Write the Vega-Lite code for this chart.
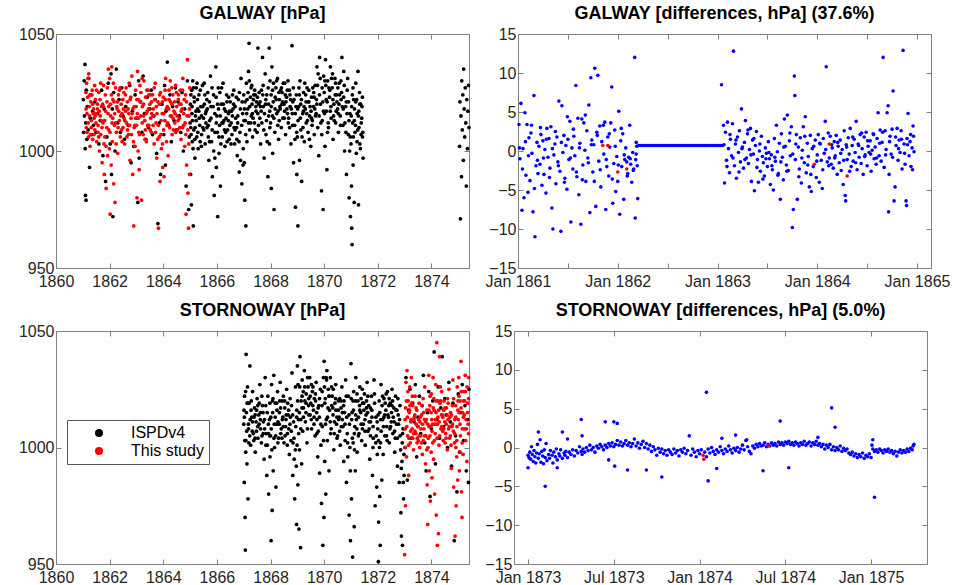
{
"$schema":"https://vega.github.io/schema/vega-lite/v6.json",
"background":"white",
"padding":{"left":17,"top":4,"right":5,"bottom":5},
"config":{
 "view":{"stroke":"#808080","strokeWidth":1},
 "font":"Liberation Sans",
 "axis":{"grid":false,"domain":false,"tickSize":-5,"tickColor":"#808080","labelFontSize":16,"labelColor":"#262626","labelPadding":7,"title":null,"labelFlush":false,"labelOverlap":false},
 "axisX":{"labelPadding":10},
 "title":{"fontSize":18,"fontWeight":"bold","color":"#000","offset":3}
},
"datasets":{
"gi":[
{"t":1861.02,"v":1022},{"t":1861.03,"v":1008},{"t":1861.05,"v":1030},{"t":1861.06,"v":1015},{"t":1861.08,"v":1037},{"t":1861.09,"v":1001},{"t":1861.1,"v":981},{"t":1861.12,"v":979},{"t":1861.11,"v":1012},{"t":1861.13,"v":1026},{"t":1861.15,"v":1005},{"t":1861.17,"v":1019},{"t":1861.2,"v":1009},{"t":1861.22,"v":1031},{"t":1861.25,"v":993},{"t":1861.28,"v":1014},{"t":1861.3,"v":1024},{"t":1861.33,"v":1007},{"t":1861.37,"v":1017},{"t":1861.4,"v":1011},{"t":1861.45,"v":1021},{"t":1861.5,"v":1008},{"t":1861.55,"v":1016},{"t":1861.6,"v":1003},{"t":1861.65,"v":1013},{"t":1861.7,"v":1026},{"t":1861.75,"v":998},{"t":1861.8,"v":1018},{"t":1861.85,"v":987},{"t":1861.9,"v":1006},{"t":1861.95,"v":1029},
{"t":1862.02,"v":1003},{"t":1862.05,"v":1033},{"t":1862.07,"v":990},{"t":1862.1,"v":1018},{"t":1862.12,"v":972},{"t":1862.15,"v":1025},{"t":1862.2,"v":1000},{"t":1862.25,"v":1035},{"t":1862.3,"v":1012},{"t":1862.35,"v":1022},{"t":1862.4,"v":1008},{"t":1862.45,"v":1027},{"t":1862.5,"v":1015},{"t":1862.55,"v":1005},{"t":1862.6,"v":1019},{"t":1862.7,"v":1011},{"t":1862.75,"v":1028},{"t":1862.8,"v":995},{"t":1862.85,"v":1017},{"t":1862.9,"v":1002},{"t":1862.95,"v":1024},
{"t":1863.02,"v":1014},{"t":1863.05,"v":978},{"t":1863.08,"v":1030},{"t":1863.1,"v":997},{"t":1863.15,"v":1021},{"t":1863.2,"v":1008},{"t":1863.25,"v":1032},{"t":1863.3,"v":1016},{"t":1863.35,"v":1005},{"t":1863.4,"v":1023},{"t":1863.45,"v":1010},{"t":1863.5,"v":1018},{"t":1863.55,"v":1026},{"t":1863.6,"v":1007},{"t":1863.65,"v":1015},{"t":1863.7,"v":1022},{"t":1863.75,"v":999},{"t":1863.8,"v":969},{"t":1863.85,"v":1012},{"t":1863.9,"v":990},{"t":1863.95,"v":1020},
{"t":1864.02,"v":1007},{"t":1864.05,"v":1028},{"t":1864.08,"v":994},{"t":1864.1,"v":1017},{"t":1864.15,"v":1038},{"t":1864.2,"v":1011},{"t":1864.25,"v":1024},{"t":1864.3,"v":1004},{"t":1864.35,"v":1019},{"t":1864.4,"v":1013},{"t":1864.45,"v":1027},{"t":1864.5,"v":1009},{"t":1864.55,"v":1021},{"t":1864.6,"v":1015},{"t":1864.65,"v":1008},{"t":1864.7,"v":1025},{"t":1864.75,"v":1000},{"t":1864.8,"v":1018},{"t":1864.85,"v":985},{"t":1864.9,"v":1030},{"t":1864.95,"v":975},{"t":1864.97,"v":1006},
{"t":1865.0,"v":1012},{"t":1865.02,"v":990},{"t":1865.03,"v":1024},{"t":1865.05,"v":977},{"t":1865.07,"v":1016},{"t":1865.08,"v":1004},{"t":1865.1,"v":1030},{"t":1865.12,"v":968},{"t":1865.14,"v":1009},{"t":1865.16,"v":1021},{"t":1865.18,"v":997},{"t":1865.2,"v":1015},{"t":1865.23,"v":1027},{"t":1865.25,"v":1006},{"t":1865.28,"v":1018},{"t":1865.3,"v":1001},{"t":1865.33,"v":1024},{"t":1865.36,"v":1011},{"t":1865.4,"v":1019},{"t":1865.43,"v":1007},{"t":1865.46,"v":1028},{"t":1865.5,"v":1014},{"t":1865.53,"v":1020},{"t":1865.56,"v":1003},{"t":1865.6,"v":1017},{"t":1865.63,"v":1010},{"t":1865.66,"v":1025},{"t":1865.7,"v":996},{"t":1865.73,"v":1013},{"t":1865.76,"v":1032},{"t":1865.8,"v":1004},{"t":1865.83,"v":989},{"t":1865.86,"v":1019},{"t":1865.9,"v":981},{"t":1865.93,"v":1008},{"t":1865.96,"v":1036},{"t":1865.98,"v":993},
{"t":1866.0,"v":1015},{"t":1866.03,"v":972},{"t":1866.05,"v":1027},{"t":1866.08,"v":999},{"t":1866.1,"v":1011},{"t":1866.13,"v":985},{"t":1866.16,"v":1020},{"t":1866.2,"v":1006},{"t":1866.23,"v":1029},{"t":1866.26,"v":1013},{"t":1866.3,"v":1002},{"t":1866.33,"v":1017},{"t":1866.36,"v":1024},{"t":1866.4,"v":1009},{"t":1866.43,"v":1016},{"t":1866.46,"v":1005},{"t":1866.5,"v":1021},{"t":1866.53,"v":1012},{"t":1866.56,"v":1007},{"t":1866.6,"v":1018},{"t":1866.63,"v":1026},{"t":1866.66,"v":1003},{"t":1866.7,"v":1014},{"t":1866.73,"v":1010},{"t":1866.76,"v":998},{"t":1866.8,"v":1022},{"t":1866.83,"v":991},{"t":1866.86,"v":1008},{"t":1866.9,"v":1031},{"t":1866.93,"v":986},{"t":1866.96,"v":1016},{"t":1866.98,"v":1001},
{"t":1867.0,"v":1024},{"t":1867.02,"v":995},{"t":1867.04,"v":979},{"t":1867.06,"v":1013},{"t":1867.08,"v":968},{"t":1867.1,"v":1029},{"t":1867.12,"v":1004},{"t":1867.15,"v":1018},{"t":1867.18,"v":1034},{"t":1867.2,"v":1046},{"t":1867.22,"v":1009},{"t":1867.25,"v":1023},{"t":1867.28,"v":1015},{"t":1867.3,"v":1028},{"t":1867.33,"v":1006},{"t":1867.36,"v":1022},{"t":1867.4,"v":1012},{"t":1867.43,"v":1024},{"t":1867.46,"v":1017},{"t":1867.5,"v":1008},{"t":1867.53,"v":1044},{"t":1867.56,"v":1020},{"t":1867.6,"v":1014},{"t":1867.63,"v":1003},{"t":1867.66,"v":1026},{"t":1867.7,"v":1040},{"t":1867.73,"v":1019},{"t":1867.76,"v":997},{"t":1867.8,"v":1033},{"t":1867.83,"v":1007},{"t":1867.86,"v":1024},{"t":1867.9,"v":989},{"t":1867.93,"v":1015},{"t":1867.95,"v":1044},{"t":1867.96,"v":1003},{"t":1867.98,"v":1030},
{"t":1868.0,"v":1012},{"t":1868.03,"v":984},{"t":1868.05,"v":1036},{"t":1868.08,"v":999},{"t":1868.1,"v":1021},{"t":1868.13,"v":975},{"t":1868.16,"v":1008},{"t":1868.2,"v":1027},{"t":1868.23,"v":1016},{"t":1868.26,"v":1031},{"t":1868.3,"v":1005},{"t":1868.33,"v":1022},{"t":1868.36,"v":1018},{"t":1868.4,"v":1010},{"t":1868.43,"v":1025},{"t":1868.46,"v":1014},{"t":1868.5,"v":1020},{"t":1868.53,"v":1029},{"t":1868.56,"v":1007},{"t":1868.6,"v":1023},{"t":1868.63,"v":1016},{"t":1868.66,"v":1012},{"t":1868.7,"v":1026},{"t":1868.73,"v":1019},{"t":1868.76,"v":1003},{"t":1868.8,"v":1045},{"t":1868.83,"v":1021},{"t":1868.86,"v":995},{"t":1868.9,"v":1011},{"t":1868.93,"v":976},{"t":1868.96,"v":1024},{"t":1868.98,"v":990},
{"t":1869.0,"v":1006},{"t":1869.02,"v":968},{"t":1869.05,"v":1019},{"t":1869.08,"v":996},{"t":1869.1,"v":1030},{"t":1869.13,"v":1009},{"t":1869.16,"v":987},{"t":1869.2,"v":1016},{"t":1869.23,"v":1025},{"t":1869.26,"v":1004},{"t":1869.3,"v":1018},{"t":1869.33,"v":1012},{"t":1869.36,"v":1027},{"t":1869.4,"v":1008},{"t":1869.43,"v":1021},{"t":1869.46,"v":1015},{"t":1869.5,"v":1002},{"t":1869.53,"v":1023},{"t":1869.56,"v":1013},{"t":1869.6,"v":1019},{"t":1869.63,"v":1007},{"t":1869.66,"v":1028},{"t":1869.7,"v":1016},{"t":1869.73,"v":1036},{"t":1869.76,"v":1010},{"t":1869.8,"v":998},{"t":1869.83,"v":1040},{"t":1869.86,"v":1020},{"t":1869.9,"v":983},{"t":1869.93,"v":1013},{"t":1869.96,"v":975},{"t":1869.98,"v":1032},
{"t":1870.0,"v":1025},{"t":1870.03,"v":1002},{"t":1870.05,"v":1039},{"t":1870.08,"v":1017},{"t":1870.1,"v":992},{"t":1870.13,"v":1030},{"t":1870.16,"v":1010},{"t":1870.2,"v":1023},{"t":1870.23,"v":1036},{"t":1870.26,"v":1014},{"t":1870.3,"v":1027},{"t":1870.33,"v":1005},{"t":1870.36,"v":1020},{"t":1870.4,"v":1031},{"t":1870.43,"v":1012},{"t":1870.46,"v":1024},{"t":1870.5,"v":1018},{"t":1870.53,"v":1008},{"t":1870.56,"v":1029},{"t":1870.6,"v":1015},{"t":1870.63,"v":1022},{"t":1870.66,"v":1040},{"t":1870.7,"v":1011},{"t":1870.73,"v":1034},{"t":1870.76,"v":1000},{"t":1870.8,"v":1019},{"t":1870.83,"v":990},{"t":1870.86,"v":1026},{"t":1870.9,"v":1007},{"t":1870.93,"v":980},{"t":1870.96,"v":1016},{"t":1870.98,"v":972},
{"t":1871.0,"v":1003},{"t":1871.02,"v":985},{"t":1871.03,"v":967},{"t":1871.04,"v":960},{"t":1871.06,"v":1012},{"t":1871.08,"v":994},{"t":1871.1,"v":1022},{"t":1871.12,"v":978},{"t":1871.15,"v":1008},{"t":1871.18,"v":1029},{"t":1871.2,"v":999},{"t":1871.23,"v":1016},{"t":1871.26,"v":1034},{"t":1871.28,"v":977},{"t":1871.3,"v":1010},{"t":1871.33,"v":1003},{"t":1871.36,"v":1020},{"t":1871.4,"v":1014},{"t":1871.43,"v":1006},{"t":1871.45,"v":997},
{"t":1875.05,"v":1002},{"t":1875.06,"v":1021},{"t":1875.08,"v":971},{"t":1875.1,"v":1015},{"t":1875.12,"v":989},{"t":1875.13,"v":1030},{"t":1875.15,"v":1009},{"t":1875.17,"v":1024},{"t":1875.19,"v":996},{"t":1875.2,"v":1035},{"t":1875.22,"v":1018},{"t":1875.24,"v":1006},{"t":1875.26,"v":1027},{"t":1875.28,"v":1012},{"t":1875.3,"v":985},{"t":1875.32,"v":1022},{"t":1875.34,"v":1001},{"t":1875.36,"v":1017},{"t":1875.38,"v":1028},{"t":1875.4,"v":1010},
{"t":1865.01,"v":1020},{"t":1865.04,"v":1007},{"t":1865.06,"v":1026},{"t":1865.09,"v":1013},{"t":1865.11,"v":1001},{"t":1865.15,"v":1023},{"t":1865.19,"v":1010},{"t":1865.22,"v":1017},{"t":1865.26,"v":1029},{"t":1865.29,"v":1008},{"t":1865.34,"v":1014},{"t":1865.38,"v":1026},{"t":1865.42,"v":1002},{"t":1865.47,"v":1019},{"t":1865.51,"v":1009},{"t":1865.55,"v":1024},{"t":1865.59,"v":1012},{"t":1865.64,"v":1018},{"t":1865.68,"v":1006},{"t":1865.72,"v":1021},{"t":1865.78,"v":1014},{"t":1865.82,"v":1027},{"t":1865.88,"v":1000},{"t":1865.92,"v":1016},{"t":1865.97,"v":1023},
{"t":1866.02,"v":1008},{"t":1866.06,"v":1018},{"t":1866.11,"v":1025},{"t":1866.15,"v":1003},{"t":1866.19,"v":1012},{"t":1866.24,"v":1020},{"t":1866.28,"v":1009},{"t":1866.34,"v":1014},{"t":1866.38,"v":1004},{"t":1866.44,"v":1023},{"t":1866.48,"v":1011},{"t":1866.54,"v":1017},{"t":1866.58,"v":1024},{"t":1866.64,"v":1010},{"t":1866.68,"v":1019},{"t":1866.74,"v":1005},{"t":1866.78,"v":1015},{"t":1866.84,"v":1025},{"t":1866.88,"v":996},{"t":1866.94,"v":1021},
{"t":1867.01,"v":1013},{"t":1867.05,"v":1021},{"t":1867.11,"v":1016},{"t":1867.16,"v":1025},{"t":1867.21,"v":1030},{"t":1867.26,"v":1012},{"t":1867.31,"v":1020},{"t":1867.35,"v":1014},{"t":1867.41,"v":1026},{"t":1867.45,"v":1019},{"t":1867.51,"v":1023},{"t":1867.55,"v":1011},{"t":1867.61,"v":1021},{"t":1867.65,"v":1017},{"t":1867.71,"v":1024},{"t":1867.75,"v":1009},{"t":1867.81,"v":1020},{"t":1867.85,"v":1013},{"t":1867.91,"v":1027},{"t":1867.97,"v":1017},
{"t":1868.02,"v":1024},{"t":1868.07,"v":1015},{"t":1868.11,"v":1029},{"t":1868.17,"v":1018},{"t":1868.21,"v":1022},{"t":1868.27,"v":1011},{"t":1868.31,"v":1025},{"t":1868.35,"v":1019},{"t":1868.41,"v":1027},{"t":1868.45,"v":1021},{"t":1868.51,"v":1014},{"t":1868.55,"v":1024},{"t":1868.61,"v":1018},{"t":1868.65,"v":1030},{"t":1868.71,"v":1010},{"t":1868.75,"v":1022},{"t":1868.81,"v":1016},{"t":1868.85,"v":1027},{"t":1868.91,"v":1005},{"t":1868.95,"v":1019},
{"t":1869.01,"v":1018},{"t":1869.06,"v":1027},{"t":1869.11,"v":1014},{"t":1869.15,"v":1022},{"t":1869.21,"v":1010},{"t":1869.25,"v":1019},{"t":1869.31,"v":1024},{"t":1869.35,"v":1016},{"t":1869.41,"v":1021},{"t":1869.45,"v":1005},{"t":1869.51,"v":1017},{"t":1869.55,"v":1011},{"t":1869.61,"v":1025},{"t":1869.65,"v":1018},{"t":1869.71,"v":1022},{"t":1869.75,"v":1028},{"t":1869.81,"v":1015},{"t":1869.85,"v":1031},{"t":1869.91,"v":1007},{"t":1869.95,"v":1021},
{"t":1870.01,"v":1016},{"t":1870.06,"v":1028},{"t":1870.11,"v":1021},{"t":1870.15,"v":1012},{"t":1870.21,"v":1026},{"t":1870.25,"v":1019},{"t":1870.31,"v":1033},{"t":1870.35,"v":1015},{"t":1870.41,"v":1024},{"t":1870.45,"v":1017},{"t":1870.51,"v":1027},{"t":1870.55,"v":1020},{"t":1870.61,"v":1011},{"t":1870.65,"v":1025},{"t":1870.71,"v":1018},{"t":1870.75,"v":1028},{"t":1870.81,"v":1008},{"t":1870.85,"v":1016},{"t":1870.91,"v":1021},{"t":1870.95,"v":1000},
{"t":1871.01,"v":1015},{"t":1871.05,"v":1024},{"t":1871.09,"v":1006},{"t":1871.13,"v":1018},{"t":1871.17,"v":1011},{"t":1871.21,"v":1022},{"t":1871.25,"v":1009},{"t":1871.29,"v":1017},{"t":1871.32,"v":1025},{"t":1871.35,"v":1001},{"t":1871.38,"v":1012},{"t":1871.41,"v":1019},{"t":1871.44,"v":1008},
{"t":1865.025,"v":1010},{"t":1865.075,"v":1019},{"t":1865.125,"v":1027},{"t":1865.175,"v":1005},{"t":1865.225,"v":1013},{"t":1865.275,"v":1022},{"t":1865.325,"v":1017},{"t":1865.375,"v":1004},{"t":1865.425,"v":1015},{"t":1865.475,"v":1010},{"t":1865.525,"v":1029},{"t":1865.575,"v":1016},{"t":1865.625,"v":1022},{"t":1865.675,"v":1011},{"t":1865.725,"v":1004},{"t":1865.775,"v":1019},{"t":1865.825,"v":1009},{"t":1865.875,"v":1024},{"t":1865.925,"v":997},{"t":1865.975,"v":1012},
{"t":1866.025,"v":1020},{"t":1866.075,"v":1006},{"t":1866.125,"v":1015},{"t":1866.175,"v":1027},{"t":1866.225,"v":1012},{"t":1866.275,"v":1018},{"t":1866.325,"v":1008},{"t":1866.375,"v":1021},{"t":1866.425,"v":1013},{"t":1866.475,"v":1017},{"t":1866.525,"v":1003},{"t":1866.575,"v":1015},{"t":1866.625,"v":1020},{"t":1866.675,"v":1009},{"t":1866.725,"v":1023},{"t":1866.775,"v":1012},{"t":1866.825,"v":1004},{"t":1866.875,"v":1018},{"t":1866.925,"v":1011},{"t":1866.975,"v":994},
{"t":1867.025,"v":1018},{"t":1867.075,"v":1007},{"t":1867.125,"v":1022},{"t":1867.175,"v":1012},{"t":1867.225,"v":1019},{"t":1867.275,"v":1027},{"t":1867.325,"v":1016},{"t":1867.375,"v":1024},{"t":1867.425,"v":1009},{"t":1867.475,"v":1021},{"t":1867.525,"v":1016},{"t":1867.575,"v":1025},{"t":1867.625,"v":1019},{"t":1867.675,"v":1012},{"t":1867.725,"v":1028},{"t":1867.775,"v":1016},{"t":1867.825,"v":1022},{"t":1867.875,"v":1004},{"t":1867.925,"v":1020},{"t":1867.975,"v":1010},
{"t":1868.025,"v":1019},{"t":1868.075,"v":1026},{"t":1868.125,"v":1014},{"t":1868.175,"v":1023},{"t":1868.225,"v":1030},{"t":1868.275,"v":1017},{"t":1868.325,"v":1013},{"t":1868.375,"v":1026},{"t":1868.425,"v":1020},{"t":1868.475,"v":1029},{"t":1868.525,"v":1017},{"t":1868.575,"v":1021},{"t":1868.625,"v":1026},{"t":1868.675,"v":1014},{"t":1868.725,"v":1024},{"t":1868.775,"v":1018},{"t":1868.825,"v":1011},{"t":1868.875,"v":1022},{"t":1868.925,"v":1016},{"t":1868.975,"v":1008},
{"t":1869.025,"v":1013},{"t":1869.075,"v":1024},{"t":1869.125,"v":1020},{"t":1869.175,"v":1006},{"t":1869.225,"v":1017},{"t":1869.275,"v":1029},{"t":1869.325,"v":1021},{"t":1869.375,"v":1013},{"t":1869.425,"v":1026},{"t":1869.475,"v":1019},{"t":1869.525,"v":1014},{"t":1869.575,"v":1027},{"t":1869.625,"v":1023},{"t":1869.675,"v":1015},{"t":1869.725,"v":1020},{"t":1869.775,"v":1033},{"t":1869.825,"v":1024},{"t":1869.875,"v":1012},{"t":1869.925,"v":1027},{"t":1869.975,"v":1017},
{"t":1870.025,"v":1030},{"t":1870.075,"v":1022},{"t":1870.125,"v":1008},{"t":1870.175,"v":1027},{"t":1870.225,"v":1017},{"t":1870.275,"v":1031},{"t":1870.325,"v":1022},{"t":1870.375,"v":1013},{"t":1870.425,"v":1029},{"t":1870.475,"v":1021},{"t":1870.525,"v":1016},{"t":1870.575,"v":1024},{"t":1870.625,"v":1030},{"t":1870.675,"v":1019},{"t":1870.725,"v":1023},{"t":1870.775,"v":1012},{"t":1870.825,"v":1021},{"t":1870.875,"v":1031},{"t":1870.925,"v":1013},{"t":1870.975,"v":1006},
{"t":1871.025,"v":1019},{"t":1871.075,"v":1027},{"t":1871.125,"v":1013},{"t":1871.175,"v":1021},{"t":1871.225,"v":1004},{"t":1871.275,"v":1015},{"t":1871.325,"v":1020},{"t":1871.375,"v":1007},{"t":1871.425,"v":1023}
],
"gs":[
{"t":1861.12,"v":1018},{"t":1861.14,"v":1029},{"t":1861.16,"v":1008},{"t":1861.18,"v":1023},{"t":1861.2,"v":1012},{"t":1861.22,"v":1033},{"t":1861.25,"v":1015},{"t":1861.27,"v":1002},{"t":1861.3,"v":1021},{"t":1861.32,"v":1010},{"t":1861.35,"v":1026},{"t":1861.37,"v":1005},{"t":1861.4,"v":1018},{"t":1861.42,"v":1014},{"t":1861.45,"v":1009},{"t":1861.47,"v":1022},{"t":1861.5,"v":1016},{"t":1861.52,"v":1004},{"t":1861.55,"v":1020},{"t":1861.57,"v":1011},{"t":1861.6,"v":1025},{"t":1861.62,"v":1000},{"t":1861.65,"v":1015},{"t":1861.67,"v":1007},{"t":1861.7,"v":1019},{"t":1861.72,"v":995},{"t":1861.75,"v":1012},{"t":1861.77,"v":1028},{"t":1861.8,"v":990},{"t":1861.82,"v":1006},{"t":1861.85,"v":1017},{"t":1861.87,"v":984},{"t":1861.9,"v":1021},{"t":1861.92,"v":998},{"t":1861.95,"v":1035},{"t":1861.97,"v":1009},
{"t":1862.0,"v":1031},{"t":1862.02,"v":973},{"t":1862.04,"v":1015},{"t":1862.06,"v":994},{"t":1862.08,"v":1036},{"t":1862.1,"v":1004},{"t":1862.12,"v":1022},{"t":1862.15,"v":986},{"t":1862.18,"v":1011},{"t":1862.2,"v":978},{"t":1862.22,"v":1027},{"t":1862.25,"v":1008},{"t":1862.28,"v":1018},{"t":1862.3,"v":999},{"t":1862.33,"v":1024},{"t":1862.36,"v":1013},{"t":1862.4,"v":1006},{"t":1862.43,"v":1020},{"t":1862.46,"v":1016},{"t":1862.5,"v":1010},{"t":1862.53,"v":1025},{"t":1862.56,"v":1003},{"t":1862.6,"v":1017},{"t":1862.63,"v":1012},{"t":1862.66,"v":1021},{"t":1862.7,"v":1007},{"t":1862.73,"v":1029},{"t":1862.76,"v":996},{"t":1862.8,"v":1014},{"t":1862.83,"v":1032},{"t":1862.86,"v":990},{"t":1862.9,"v":968},{"t":1862.92,"v":1019},{"t":1862.95,"v":1002},{"t":1862.97,"v":1026},
{"t":1863.0,"v":1011},{"t":1863.02,"v":980},{"t":1863.04,"v":1034},{"t":1863.06,"v":1000},{"t":1863.08,"v":1022},{"t":1863.1,"v":992},{"t":1863.13,"v":1028},{"t":1863.16,"v":1015},{"t":1863.19,"v":979},{"t":1863.22,"v":1019},{"t":1863.25,"v":1007},{"t":1863.28,"v":1030},{"t":1863.31,"v":1013},{"t":1863.34,"v":1023},{"t":1863.37,"v":1004},{"t":1863.4,"v":1017},{"t":1863.43,"v":1026},{"t":1863.46,"v":1011},{"t":1863.5,"v":1020},{"t":1863.53,"v":1014},{"t":1863.56,"v":1008},{"t":1863.6,"v":1024},{"t":1863.63,"v":1018},{"t":1863.66,"v":1003},{"t":1863.7,"v":1029},{"t":1863.73,"v":1012},{"t":1863.76,"v":997},{"t":1863.8,"v":1021},{"t":1863.82,"v":967},{"t":1863.85,"v":1006},{"t":1863.88,"v":987},{"t":1863.9,"v":1025},{"t":1863.93,"v":1001},{"t":1863.96,"v":1016},{"t":1863.98,"v":993},
{"t":1864.0,"v":1023},{"t":1864.03,"v":989},{"t":1864.06,"v":1013},{"t":1864.09,"v":1031},{"t":1864.12,"v":1004},{"t":1864.15,"v":1019},{"t":1864.18,"v":998},{"t":1864.21,"v":1026},{"t":1864.24,"v":1010},{"t":1864.27,"v":1021},{"t":1864.3,"v":1015},{"t":1864.33,"v":1007},{"t":1864.36,"v":1024},{"t":1864.4,"v":1017},{"t":1864.43,"v":1012},{"t":1864.46,"v":1028},{"t":1864.5,"v":1019},{"t":1864.53,"v":1009},{"t":1864.56,"v":1022},{"t":1864.6,"v":1014},{"t":1864.63,"v":1026},{"t":1864.66,"v":1005},{"t":1864.7,"v":1018},{"t":1864.73,"v":1031},{"t":1864.76,"v":1011},{"t":1864.8,"v":1002},{"t":1864.83,"v":1024},{"t":1864.85,"v":973},{"t":1864.87,"v":994},{"t":1864.9,"v":1039},{"t":1864.92,"v":982},{"t":1864.94,"v":967},{"t":1864.96,"v":1015},{"t":1864.98,"v":990},{"t":1864.99,"v":1027},
{"t":1861.13,"v":1010},{"t":1861.19,"v":1031},{"t":1861.24,"v":1019},{"t":1861.29,"v":1007},{"t":1861.34,"v":1024},{"t":1861.39,"v":1016},{"t":1861.44,"v":1028},{"t":1861.49,"v":1012},{"t":1861.54,"v":1018},{"t":1861.59,"v":1006},{"t":1861.64,"v":1022},{"t":1861.69,"v":1013},{"t":1861.74,"v":1020},{"t":1861.79,"v":1003},{"t":1861.84,"v":1024},{"t":1861.89,"v":1010},{"t":1861.94,"v":1016},{"t":1861.99,"v":1001},
{"t":1862.03,"v":1020},{"t":1862.09,"v":1012},{"t":1862.14,"v":1029},{"t":1862.19,"v":1016},{"t":1862.24,"v":1003},{"t":1862.29,"v":1021},{"t":1862.34,"v":1017},{"t":1862.39,"v":1027},{"t":1862.44,"v":1009},{"t":1862.49,"v":1022},{"t":1862.54,"v":1014},{"t":1862.59,"v":1024},{"t":1862.64,"v":1006},{"t":1862.69,"v":1018},{"t":1862.74,"v":1011},{"t":1862.79,"v":1023},{"t":1862.84,"v":1016},{"t":1862.89,"v":1004},{"t":1862.94,"v":1011},{"t":1862.99,"v":1019},
{"t":1863.03,"v":1016},{"t":1863.09,"v":1008},{"t":1863.14,"v":1021},{"t":1863.21,"v":1031},{"t":1863.27,"v":1015},{"t":1863.33,"v":1009},{"t":1863.39,"v":1026},{"t":1863.45,"v":1018},{"t":1863.51,"v":1024},{"t":1863.57,"v":1016},{"t":1863.62,"v":1011},{"t":1863.68,"v":1022},{"t":1863.74,"v":1019},{"t":1863.79,"v":1005},{"t":1863.86,"v":1020},{"t":1863.92,"v":1013},{"t":1863.97,"v":1003},
{"t":1864.02,"v":1016},{"t":1864.08,"v":1022},{"t":1864.14,"v":1011},{"t":1864.2,"v":1018},{"t":1864.26,"v":1030},{"t":1864.32,"v":1020},{"t":1864.38,"v":1009},{"t":1864.44,"v":1016},{"t":1864.49,"v":1025},{"t":1864.55,"v":1013},{"t":1864.61,"v":1020},{"t":1864.67,"v":1017},{"t":1864.72,"v":1010},{"t":1864.78,"v":1022},{"t":1864.84,"v":1007},{"t":1864.89,"v":1015},{"t":1864.95,"v":1003},
{"t":1861.115,"v":1025},{"t":1861.155,"v":1016},{"t":1861.215,"v":1006},{"t":1861.265,"v":1024},{"t":1861.315,"v":1013},{"t":1861.365,"v":1020},{"t":1861.415,"v":1007},{"t":1861.465,"v":1015},{"t":1861.515,"v":1026},{"t":1861.565,"v":1008},{"t":1861.615,"v":1017},{"t":1861.665,"v":1029},{"t":1861.715,"v":1010},{"t":1861.765,"v":1019},{"t":1861.815,"v":1013},{"t":1861.865,"v":1002},{"t":1861.915,"v":1027},{"t":1861.965,"v":1019},
{"t":1862.015,"v":1008},{"t":1862.065,"v":1024},{"t":1862.115,"v":1014},{"t":1862.165,"v":1021},{"t":1862.215,"v":1012},{"t":1862.265,"v":1019},{"t":1862.315,"v":1010},{"t":1862.365,"v":1026},{"t":1862.415,"v":1015},{"t":1862.465,"v":1004},{"t":1862.515,"v":1018},{"t":1862.565,"v":1013},{"t":1862.615,"v":1027},{"t":1862.665,"v":1009},{"t":1862.715,"v":1016},{"t":1862.765,"v":1022},{"t":1862.815,"v":1007},{"t":1862.865,"v":1018},{"t":1862.915,"v":1010},{"t":1862.965,"v":1014},
{"t":1863.015,"v":1022},{"t":1863.065,"v":1014},{"t":1863.115,"v":1007},{"t":1863.165,"v":1025},{"t":1863.215,"v":1012},{"t":1863.265,"v":1020},{"t":1863.315,"v":1005},{"t":1863.365,"v":1016},{"t":1863.415,"v":1011},{"t":1863.465,"v":1024},{"t":1863.515,"v":1009},{"t":1863.565,"v":1021},{"t":1863.615,"v":1015},{"t":1863.665,"v":1027},{"t":1863.715,"v":1008},{"t":1863.765,"v":1016},{"t":1863.815,"v":1011},{"t":1863.865,"v":1024},{"t":1863.915,"v":1007},{"t":1863.965,"v":1021},
{"t":1864.015,"v":1009},{"t":1864.065,"v":1026},{"t":1864.115,"v":1018},{"t":1864.165,"v":1012},{"t":1864.215,"v":1022},{"t":1864.265,"v":1015},{"t":1864.315,"v":1027},{"t":1864.365,"v":1014},{"t":1864.415,"v":1021},{"t":1864.465,"v":1008},{"t":1864.515,"v":1015},{"t":1864.565,"v":1024},{"t":1864.615,"v":1010},{"t":1864.665,"v":1020},{"t":1864.715,"v":1026},{"t":1864.765,"v":1016},{"t":1864.815,"v":1012},{"t":1864.865,"v":1021},{"t":1864.915,"v":1009},{"t":1864.975,"v":1018}
],
"si":[
{"t":1867.0,"v":1010},{"t":1867.02,"v":985},{"t":1867.03,"v":1022},{"t":1867.05,"v":970},{"t":1867.06,"v":956},{"t":1867.08,"v":1003},{"t":1867.09,"v":1040},{"t":1867.1,"v":1015},{"t":1867.12,"v":993},{"t":1867.14,"v":1026},{"t":1867.16,"v":978},{"t":1867.18,"v":1008},{"t":1867.2,"v":1019},{"t":1867.23,"v":1035},{"t":1867.26,"v":1001},{"t":1867.3,"v":1013},{"t":1867.33,"v":1024},{"t":1867.36,"v":1006},{"t":1867.4,"v":1017},{"t":1867.43,"v":998},{"t":1867.46,"v":1011},{"t":1867.5,"v":1021},{"t":1867.53,"v":1004},{"t":1867.56,"v":1014},{"t":1867.6,"v":1027},{"t":1867.63,"v":1008},{"t":1867.66,"v":1002},{"t":1867.7,"v":1018},{"t":1867.73,"v":1011},{"t":1867.76,"v":995},{"t":1867.8,"v":1030},{"t":1867.83,"v":1006},{"t":1867.86,"v":988},{"t":1867.9,"v":1022},{"t":1867.93,"v":980},{"t":1867.96,"v":1012},{"t":1867.98,"v":996},
{"t":1868.0,"v":1005},{"t":1868.02,"v":960},{"t":1868.04,"v":1027},{"t":1868.06,"v":973},{"t":1868.08,"v":1015},{"t":1868.1,"v":990},{"t":1868.12,"v":1031},{"t":1868.15,"v":1000},{"t":1868.18,"v":1019},{"t":1868.2,"v":983},{"t":1868.23,"v":1010},{"t":1868.26,"v":1024},{"t":1868.3,"v":1004},{"t":1868.33,"v":1015},{"t":1868.36,"v":1028},{"t":1868.4,"v":1008},{"t":1868.43,"v":1020},{"t":1868.46,"v":1013},{"t":1868.5,"v":1002},{"t":1868.53,"v":1017},{"t":1868.56,"v":1009},{"t":1868.6,"v":1025},{"t":1868.63,"v":1006},{"t":1868.66,"v":1014},{"t":1868.7,"v":997},{"t":1868.73,"v":1021},{"t":1868.76,"v":1003},{"t":1868.8,"v":1032},{"t":1868.83,"v":988},{"t":1868.86,"v":1011},{"t":1868.9,"v":978},{"t":1868.93,"v":1026},{"t":1868.96,"v":992},{"t":1868.97,"v":967},{"t":1868.98,"v":1016},{"t":1868.99,"v":1001},
{"t":1869.0,"v":1035},{"t":1869.02,"v":984},{"t":1869.04,"v":1012},{"t":1869.06,"v":965},{"t":1869.08,"v":999},{"t":1869.1,"v":1039},{"t":1869.12,"v":957},{"t":1869.14,"v":1020},{"t":1869.16,"v":993},{"t":1869.18,"v":1029},{"t":1869.2,"v":1007},{"t":1869.23,"v":1017},{"t":1869.26,"v":1033},{"t":1869.3,"v":1011},{"t":1869.33,"v":1023},{"t":1869.36,"v":1002},{"t":1869.4,"v":1026},{"t":1869.43,"v":1014},{"t":1869.46,"v":1030},{"t":1869.5,"v":1019},{"t":1869.53,"v":1008},{"t":1869.56,"v":1024},{"t":1869.6,"v":1016},{"t":1869.63,"v":1021},{"t":1869.66,"v":1005},{"t":1869.7,"v":1028},{"t":1869.73,"v":1012},{"t":1869.76,"v":996},{"t":1869.8,"v":1018},{"t":1869.83,"v":989},{"t":1869.86,"v":1025},{"t":1869.9,"v":976},{"t":1869.93,"v":1009},{"t":1869.95,"v":958},{"t":1869.97,"v":1030},{"t":1869.99,"v":970},
{"t":1870.0,"v":1037},{"t":1870.02,"v":994},{"t":1870.04,"v":1021},{"t":1870.06,"v":980},{"t":1870.08,"v":1012},{"t":1870.1,"v":1033},{"t":1870.12,"v":1003},{"t":1870.15,"v":1025},{"t":1870.18,"v":990},{"t":1870.2,"v":1016},{"t":1870.23,"v":1030},{"t":1870.26,"v":1008},{"t":1870.3,"v":1022},{"t":1870.33,"v":1014},{"t":1870.36,"v":999},{"t":1870.4,"v":1019},{"t":1870.43,"v":1027},{"t":1870.46,"v":1010},{"t":1870.5,"v":1005},{"t":1870.53,"v":1020},{"t":1870.56,"v":1013},{"t":1870.6,"v":1001},{"t":1870.63,"v":1017},{"t":1870.66,"v":1026},{"t":1870.7,"v":1009},{"t":1870.73,"v":994},{"t":1870.76,"v":1015},{"t":1870.8,"v":1029},{"t":1870.83,"v":985},{"t":1870.86,"v":1006},{"t":1870.9,"v":1022},{"t":1870.93,"v":971},{"t":1870.96,"v":1000},{"t":1870.98,"v":960},
{"t":1871.0,"v":1036},{"t":1871.02,"v":978},{"t":1871.04,"v":1015},{"t":1871.06,"v":953},{"t":1871.08,"v":1002},{"t":1871.1,"v":1024},{"t":1871.12,"v":966},{"t":1871.14,"v":1009},{"t":1871.16,"v":990},{"t":1871.18,"v":1030},{"t":1871.2,"v":1012},{"t":1871.23,"v":998},{"t":1871.26,"v":1020},{"t":1871.3,"v":1006},{"t":1871.33,"v":1026},{"t":1871.36,"v":1015},{"t":1871.4,"v":1003},{"t":1871.43,"v":1019},{"t":1871.46,"v":1010},{"t":1871.5,"v":1023},{"t":1871.53,"v":1001},{"t":1871.56,"v":1014},{"t":1871.6,"v":1028},{"t":1871.63,"v":1007},{"t":1871.66,"v":1018},{"t":1871.7,"v":995},{"t":1871.73,"v":1011},{"t":1871.76,"v":1022},{"t":1871.8,"v":988},{"t":1871.83,"v":1004},{"t":1871.86,"v":1029},{"t":1871.9,"v":975},{"t":1871.93,"v":1013},{"t":1871.96,"v":983},{"t":1871.98,"v":997},
{"t":1872.0,"v":1008},{"t":1872.02,"v":951},{"t":1872.03,"v":968},{"t":1872.05,"v":1020},{"t":1872.07,"v":979},{"t":1872.09,"v":958},{"t":1872.1,"v":1002},{"t":1872.12,"v":1027},{"t":1872.15,"v":986},{"t":1872.18,"v":1012},{"t":1872.2,"v":997},{"t":1872.23,"v":1021},{"t":1872.26,"v":1005},{"t":1872.3,"v":1016},{"t":1872.33,"v":1009},{"t":1872.36,"v":1024},{"t":1872.4,"v":1013},{"t":1872.43,"v":1002},{"t":1872.46,"v":1019},{"t":1872.5,"v":1011},{"t":1872.53,"v":1025},{"t":1872.56,"v":1006},{"t":1872.6,"v":1017},{"t":1872.63,"v":998},{"t":1872.66,"v":1022},{"t":1872.7,"v":1010},{"t":1872.73,"v":992},{"t":1872.76,"v":1014},{"t":1872.8,"v":985},{"t":1872.83,"v":1005},{"t":1872.86,"v":972},{"t":1872.88,"v":962},{"t":1872.9,"v":994},{"t":1872.92,"v":958},{"t":1872.94,"v":1008},{"t":1872.96,"v":978},{"t":1872.98,"v":988},
{"t":1873.02,"v":1000},{"t":1873.05,"v":1030},{"t":1873.1,"v":986},{"t":1873.15,"v":1016},{"t":1873.2,"v":1025},{"t":1873.25,"v":1004},{"t":1873.3,"v":1019},{"t":1873.35,"v":1011},{"t":1873.4,"v":1027},{"t":1873.45,"v":996},{"t":1873.5,"v":1013},{"t":1873.55,"v":1022},{"t":1873.6,"v":1006},{"t":1873.65,"v":1018},{"t":1873.7,"v":1031},{"t":1873.75,"v":1002},{"t":1873.8,"v":990},{"t":1873.85,"v":1015},{"t":1873.9,"v":1024},{"t":1873.95,"v":979},{"t":1874.0,"v":1008},{"t":1874.05,"v":1020},{"t":1874.1,"v":1041},{"t":1874.15,"v":993},{"t":1874.2,"v":1012},{"t":1874.25,"v":1026},{"t":1874.3,"v":1004},{"t":1874.35,"v":1017},{"t":1874.4,"v":1039},{"t":1874.45,"v":1009},{"t":1874.5,"v":1021},{"t":1874.55,"v":1014},{"t":1874.6,"v":1000},{"t":1874.65,"v":1028},{"t":1874.7,"v":1011},{"t":1874.75,"v":992},{"t":1874.8,"v":1019},{"t":1874.85,"v":960},{"t":1874.9,"v":1005},{"t":1874.95,"v":981},{"t":1875.0,"v":1023},{"t":1875.05,"v":998},{"t":1875.1,"v":1015},{"t":1875.15,"v":1027},{"t":1875.2,"v":1003},{"t":1875.25,"v":1018},{"t":1875.3,"v":990},{"t":1875.35,"v":1012},{"t":1875.38,"v":985},{"t":1875.4,"v":1025},
{"t":1867.01,"v":1016},{"t":1867.04,"v":1003},{"t":1867.07,"v":1024},{"t":1867.11,"v":1007},{"t":1867.15,"v":1019},{"t":1867.19,"v":1002},{"t":1867.24,"v":1012},{"t":1867.28,"v":1020},{"t":1867.32,"v":1007},{"t":1867.38,"v":1013},{"t":1867.42,"v":1004},{"t":1867.48,"v":1016},{"t":1867.52,"v":1009},{"t":1867.58,"v":1019},{"t":1867.62,"v":1012},{"t":1867.68,"v":1005},{"t":1867.72,"v":1015},{"t":1867.78,"v":1008},{"t":1867.82,"v":1018},{"t":1867.88,"v":1001},{"t":1867.92,"v":1010},{"t":1867.97,"v":1005},
{"t":1868.01,"v":1013},{"t":1868.05,"v":999},{"t":1868.09,"v":1021},{"t":1868.14,"v":1010},{"t":1868.19,"v":1005},{"t":1868.24,"v":1016},{"t":1868.28,"v":1011},{"t":1868.34,"v":1020},{"t":1868.38,"v":1006},{"t":1868.44,"v":1012},{"t":1868.48,"v":1022},{"t":1868.54,"v":1005},{"t":1868.58,"v":1014},{"t":1868.64,"v":1019},{"t":1868.68,"v":1008},{"t":1868.74,"v":1013},{"t":1868.78,"v":1018},{"t":1868.84,"v":1002},{"t":1868.88,"v":995},{"t":1868.94,"v":1009},
{"t":1869.01,"v":1020},{"t":1869.05,"v":1006},{"t":1869.09,"v":1026},{"t":1869.13,"v":1012},{"t":1869.17,"v":1017},{"t":1869.22,"v":1024},{"t":1869.28,"v":1020},{"t":1869.32,"v":1015},{"t":1869.38,"v":1030},{"t":1869.42,"v":1018},{"t":1869.48,"v":1022},{"t":1869.52,"v":1012},{"t":1869.58,"v":1026},{"t":1869.62,"v":1010},{"t":1869.68,"v":1020},{"t":1869.72,"v":1015},{"t":1869.78,"v":1007},{"t":1869.82,"v":1013},{"t":1869.88,"v":1001},{"t":1869.92,"v":1018},
{"t":1870.01,"v":1026},{"t":1870.05,"v":1010},{"t":1870.09,"v":1029},{"t":1870.14,"v":1017},{"t":1870.19,"v":1022},{"t":1870.24,"v":1006},{"t":1870.28,"v":1018},{"t":1870.34,"v":1025},{"t":1870.38,"v":1011},{"t":1870.44,"v":1016},{"t":1870.48,"v":1004},{"t":1870.54,"v":1012},{"t":1870.58,"v":1021},{"t":1870.64,"v":1009},{"t":1870.68,"v":1015},{"t":1870.74,"v":1020},{"t":1870.78,"v":1003},{"t":1870.84,"v":1013},{"t":1870.88,"v":996},{"t":1870.94,"v":1010},
{"t":1871.01,"v":1021},{"t":1871.05,"v":1004},{"t":1871.09,"v":1016},{"t":1871.13,"v":999},{"t":1871.17,"v":1020},{"t":1871.22,"v":1008},{"t":1871.28,"v":1013},{"t":1871.32,"v":1018},{"t":1871.38,"v":1010},{"t":1871.42,"v":1025},{"t":1871.48,"v":1016},{"t":1871.52,"v":1012},{"t":1871.58,"v":1020},{"t":1871.62,"v":1015},{"t":1871.68,"v":1008},{"t":1871.72,"v":1017},{"t":1871.78,"v":1013},{"t":1871.82,"v":1000},{"t":1871.88,"v":1019},{"t":1871.94,"v":1005},
{"t":1872.01,"v":1014},{"t":1872.06,"v":1000},{"t":1872.11,"v":1012},{"t":1872.16,"v":1018},{"t":1872.21,"v":1009},{"t":1872.25,"v":1014},{"t":1872.31,"v":1023},{"t":1872.35,"v":1003},{"t":1872.41,"v":1018},{"t":1872.45,"v":1008},{"t":1872.51,"v":1015},{"t":1872.55,"v":1020},{"t":1872.61,"v":1011},{"t":1872.65,"v":1004},{"t":1872.71,"v":1016},{"t":1872.75,"v":1021},{"t":1872.81,"v":1012},{"t":1872.85,"v":999},{"t":1872.91,"v":1002},{"t":1872.95,"v":985},
{"t":1867.025,"v":1013},{"t":1867.075,"v":998},{"t":1867.125,"v":1019},{"t":1867.175,"v":1010},{"t":1867.225,"v":1005},{"t":1867.275,"v":1016},{"t":1867.325,"v":1011},{"t":1867.375,"v":1003},{"t":1867.425,"v":1014},{"t":1867.475,"v":1007},{"t":1867.525,"v":1018},{"t":1867.575,"v":1010},{"t":1867.625,"v":1015},{"t":1867.675,"v":1022},{"t":1867.725,"v":1006},{"t":1867.775,"v":1012},{"t":1867.825,"v":1001},{"t":1867.875,"v":1015},{"t":1867.925,"v":1006},{"t":1867.975,"v":1019},
{"t":1868.025,"v":1008},{"t":1868.075,"v":1020},{"t":1868.125,"v":1004},{"t":1868.175,"v":1013},{"t":1868.225,"v":1019},{"t":1868.275,"v":1002},{"t":1868.325,"v":1010},{"t":1868.375,"v":1017},{"t":1868.425,"v":1004},{"t":1868.475,"v":1009},{"t":1868.525,"v":1020},{"t":1868.575,"v":1012},{"t":1868.625,"v":1001},{"t":1868.675,"v":1016},{"t":1868.725,"v":1010},{"t":1868.775,"v":1007},{"t":1868.825,"v":1014},{"t":1868.875,"v":1004},{"t":1868.925,"v":999},{"t":1868.975,"v":1013},
{"t":1869.025,"v":1027},{"t":1869.075,"v":1015},{"t":1869.125,"v":1008},{"t":1869.175,"v":1022},{"t":1869.225,"v":1013},{"t":1869.275,"v":1026},{"t":1869.325,"v":1019},{"t":1869.375,"v":1008},{"t":1869.425,"v":1021},{"t":1869.475,"v":1014},{"t":1869.525,"v":1027},{"t":1869.575,"v":1018},{"t":1869.625,"v":1013},{"t":1869.675,"v":1023},{"t":1869.725,"v":1006},{"t":1869.775,"v":1017},{"t":1869.825,"v":1021},{"t":1869.875,"v":1010},{"t":1869.925,"v":1024},{"t":1869.975,"v":1003},
{"t":1870.025,"v":1019},{"t":1870.075,"v":1030},{"t":1870.125,"v":1013},{"t":1870.175,"v":1022},{"t":1870.225,"v":1011},{"t":1870.275,"v":1026},{"t":1870.325,"v":1017},{"t":1870.375,"v":1006},{"t":1870.425,"v":1021},{"t":1870.475,"v":1013},{"t":1870.525,"v":1016},{"t":1870.575,"v":1007},{"t":1870.625,"v":1020},{"t":1870.675,"v":1012},{"t":1870.725,"v":1018},{"t":1870.775,"v":1010},{"t":1870.825,"v":1022},{"t":1870.875,"v":1002},{"t":1870.925,"v":1014},{"t":1870.975,"v":990},
{"t":1871.025,"v":1012},{"t":1871.075,"v":1020},{"t":1871.125,"v":1006},{"t":1871.175,"v":1014},{"t":1871.225,"v":1023},{"t":1871.275,"v":1005},{"t":1871.325,"v":1016},{"t":1871.375,"v":1021},{"t":1871.425,"v":1008},{"t":1871.475,"v":1019},{"t":1871.525,"v":1007},{"t":1871.575,"v":1017},{"t":1871.625,"v":1022},{"t":1871.675,"v":1011},{"t":1871.725,"v":1005},{"t":1871.775,"v":1016},{"t":1871.825,"v":1009},{"t":1871.875,"v":1023},{"t":1871.925,"v":1002},{"t":1871.975,"v":1011},
{"t":1872.025,"v":1003},{"t":1872.075,"v":1015},{"t":1872.125,"v":1007},{"t":1872.175,"v":1022},{"t":1872.225,"v":1013},{"t":1872.275,"v":1019},{"t":1872.325,"v":1005},{"t":1872.375,"v":1014},{"t":1872.425,"v":1021},{"t":1872.475,"v":1009},{"t":1872.525,"v":1018},{"t":1872.575,"v":1013},{"t":1872.625,"v":1007},{"t":1872.675,"v":1016},{"t":1872.725,"v":1004},{"t":1872.775,"v":1010},{"t":1872.825,"v":1018},{"t":1872.875,"v":991},{"t":1872.925,"v":1006},{"t":1872.975,"v":997}
],
"ss":[
{"t":1873.0,"v":954},{"t":1873.02,"v":1012},{"t":1873.03,"v":975},{"t":1873.05,"v":1028},{"t":1873.07,"v":996},{"t":1873.09,"v":1033},{"t":1873.11,"v":1005},{"t":1873.13,"v":1020},{"t":1873.15,"v":988},{"t":1873.17,"v":1015},{"t":1873.19,"v":1026},{"t":1873.21,"v":1002},{"t":1873.23,"v":1011},{"t":1873.25,"v":1030},{"t":1873.28,"v":1008},{"t":1873.3,"v":1018},{"t":1873.33,"v":999},{"t":1873.36,"v":1013},{"t":1873.39,"v":1022},{"t":1873.42,"v":1006},{"t":1873.45,"v":1016},{"t":1873.48,"v":1009},{"t":1873.51,"v":1003},{"t":1873.54,"v":1019},{"t":1873.57,"v":1011},{"t":1873.6,"v":1005},{"t":1873.63,"v":1014},{"t":1873.66,"v":997},{"t":1873.69,"v":1021},{"t":1873.72,"v":1008},{"t":1873.75,"v":1026},{"t":1873.78,"v":993},{"t":1873.81,"v":1012},{"t":1873.84,"v":984},{"t":1873.86,"v":967},{"t":1873.88,"v":1004},{"t":1873.9,"v":1031},{"t":1873.92,"v":990},{"t":1873.94,"v":1018},{"t":1873.96,"v":977},{"t":1873.98,"v":1009},
{"t":1874.0,"v":1023},{"t":1874.02,"v":987},{"t":1874.04,"v":1010},{"t":1874.06,"v":1030},{"t":1874.08,"v":995},{"t":1874.1,"v":1016},{"t":1874.12,"v":980},{"t":1874.14,"v":1006},{"t":1874.16,"v":1027},{"t":1874.18,"v":971},{"t":1874.2,"v":1045},{"t":1874.22,"v":958},{"t":1874.24,"v":1013},{"t":1874.26,"v":963},{"t":1874.28,"v":1001},{"t":1874.3,"v":1039},{"t":1874.32,"v":1019},{"t":1874.35,"v":1008},{"t":1874.38,"v":1024},{"t":1874.41,"v":1014},{"t":1874.44,"v":1003},{"t":1874.47,"v":1020},{"t":1874.5,"v":1011},{"t":1874.53,"v":1006},{"t":1874.56,"v":1017},{"t":1874.59,"v":999},{"t":1874.62,"v":1012},{"t":1874.65,"v":1025},{"t":1874.68,"v":1004},{"t":1874.71,"v":1015},{"t":1874.74,"v":991},{"t":1874.77,"v":1009},{"t":1874.8,"v":1029},{"t":1874.83,"v":983},{"t":1874.86,"v":1002},{"t":1874.88,"v":962},{"t":1874.9,"v":1018},{"t":1874.92,"v":975},{"t":1874.94,"v":996},{"t":1874.96,"v":1026},{"t":1874.98,"v":986},
{"t":1875.0,"v":1012},{"t":1875.02,"v":1030},{"t":1875.04,"v":990},{"t":1875.06,"v":1020},{"t":1875.08,"v":1005},{"t":1875.1,"v":1037},{"t":1875.12,"v":981},{"t":1875.14,"v":970},{"t":1875.16,"v":1015},{"t":1875.18,"v":997},{"t":1875.2,"v":1024},{"t":1875.23,"v":1008},{"t":1875.26,"v":1031},{"t":1875.29,"v":1012},{"t":1875.32,"v":994},{"t":1875.35,"v":1019},{"t":1875.38,"v":1006},
{"t":1873.01,"v":1000},{"t":1873.04,"v":1017},{"t":1873.08,"v":1009},{"t":1873.12,"v":1024},{"t":1873.16,"v":1004},{"t":1873.2,"v":1018},{"t":1873.24,"v":1012},{"t":1873.29,"v":1022},{"t":1873.34,"v":1006},{"t":1873.38,"v":1014},{"t":1873.43,"v":1010},{"t":1873.47,"v":1004},{"t":1873.52,"v":1012},{"t":1873.56,"v":1000},{"t":1873.61,"v":1008},{"t":1873.65,"v":1018},{"t":1873.7,"v":1003},{"t":1873.74,"v":1012},{"t":1873.79,"v":1005},{"t":1873.83,"v":1016},{"t":1873.87,"v":1000},{"t":1873.91,"v":1009},{"t":1873.95,"v":1022},{"t":1873.99,"v":998},
{"t":1874.01,"v":1012},{"t":1874.05,"v":1002},{"t":1874.09,"v":1021},{"t":1874.13,"v":1010},{"t":1874.17,"v":1015},{"t":1874.21,"v":1004},{"t":1874.25,"v":1020},{"t":1874.29,"v":1011},{"t":1874.33,"v":1026},{"t":1874.37,"v":1014},{"t":1874.42,"v":1007},{"t":1874.46,"v":1016},{"t":1874.51,"v":1002},{"t":1874.55,"v":1010},{"t":1874.6,"v":1021},{"t":1874.64,"v":1008},{"t":1874.69,"v":1013},{"t":1874.73,"v":1001},{"t":1874.78,"v":1018},{"t":1874.82,"v":1007},{"t":1874.87,"v":1012},{"t":1874.91,"v":1000},{"t":1874.95,"v":1009},{"t":1874.99,"v":1020},
{"t":1875.03,"v":1015},{"t":1875.07,"v":998},{"t":1875.11,"v":1024},{"t":1875.15,"v":1008},{"t":1875.19,"v":1013},{"t":1875.24,"v":1020},{"t":1875.28,"v":1003},{"t":1875.33,"v":1026},{"t":1875.37,"v":1010},{"t":1875.39,"v":1030},
{"t":1873.025,"v":1008},{"t":1873.065,"v":1020},{"t":1873.105,"v":1013},{"t":1873.145,"v":1001},{"t":1873.185,"v":1016},{"t":1873.225,"v":1007},{"t":1873.265,"v":1019},{"t":1873.305,"v":1004},{"t":1873.345,"v":1012},{"t":1873.385,"v":1007},{"t":1873.425,"v":1017},{"t":1873.465,"v":1002},{"t":1873.505,"v":1009},{"t":1873.545,"v":1005},{"t":1873.585,"v":1013},{"t":1873.625,"v":1002},{"t":1873.665,"v":1010},{"t":1873.705,"v":1015},{"t":1873.745,"v":1005},{"t":1873.785,"v":1011},{"t":1873.825,"v":999},{"t":1873.865,"v":1010},{"t":1873.905,"v":1016},{"t":1873.945,"v":1005},{"t":1873.985,"v":1015},
{"t":1874.025,"v":1007},{"t":1874.065,"v":1017},{"t":1874.105,"v":1003},{"t":1874.145,"v":1012},{"t":1874.185,"v":1020},{"t":1874.225,"v":1010},{"t":1874.265,"v":1016},{"t":1874.305,"v":1005},{"t":1874.345,"v":1020},{"t":1874.385,"v":1009},{"t":1874.425,"v":1013},{"t":1874.465,"v":1008},{"t":1874.505,"v":1017},{"t":1874.545,"v":1004},{"t":1874.585,"v":1014},{"t":1874.625,"v":1019},{"t":1874.665,"v":1009},{"t":1874.705,"v":1005},{"t":1874.745,"v":1014},{"t":1874.785,"v":1010},{"t":1874.825,"v":1021},{"t":1874.865,"v":1006},{"t":1874.905,"v":1013},{"t":1874.945,"v":1003},{"t":1874.985,"v":1016},
{"t":1875.025,"v":1022},{"t":1875.065,"v":1010},{"t":1875.105,"v":1017},{"t":1875.145,"v":1002},{"t":1875.185,"v":1020},{"t":1875.225,"v":1014},{"t":1875.265,"v":1024},{"t":1875.305,"v":1008},{"t":1875.345,"v":1015},{"t":1875.385,"v":1021}
],
"gd":[
{"t":1861.01,"v":3.4},{"t":1861.02,"v":-1.0},{"t":1861.03,"v":6.1},{"t":1861.04,"v":-7.6},{"t":1861.05,"v":0.3},{"t":1861.06,"v":-6.0},{"t":1861.07,"v":4.9},{"t":1861.08,"v":-3.1},{"t":1861.09,"v":3.4},{"t":1861.1,"v":-5.3},{"t":1861.11,"v":1.7},{"t":1861.12,"v":-3.8},{"t":1861.13,"v":2.3},{"t":1861.14,"v":-0.3},{"t":1861.15,"v":-7.8},{"t":1861.16,"v":7.1},{"t":1861.17,"v":-11.0},{"t":1861.18,"v":-1.9},{"t":1861.19,"v":1.1},{"t":1861.2,"v":-2.9},{"t":1861.21,"v":0.6},{"t":1861.22,"v":-1.7},{"t":1861.23,"v":2.1},{"t":1861.24,"v":-4.4},{"t":1861.25,"v":1.3},{"t":1861.26,"v":-3.0},{"t":1861.27,"v":0.2},{"t":1861.28,"v":-5.4},{"t":1861.29,"v":2.9},{"t":1861.3,"v":-0.8},{"t":1861.31,"v":1.6},{"t":1861.32,"v":-2.2},{"t":1861.33,"v":3.1},{"t":1861.34,"v":-7.3},{"t":1861.35,"v":-10.0},{"t":1861.36,"v":-0.5},{"t":1861.37,"v":0.9},{"t":1861.38,"v":-4.2},{"t":1861.39,"v":1.8},{"t":1861.4,"v":-1.4},{"t":1861.41,"v":6.4},{"t":1861.42,"v":-2.6},{"t":1861.43,"v":-10.3},{"t":1861.44,"v":5.8},{"t":1861.45,"v":-0.2},{"t":1861.46,"v":2.0},{"t":1861.47,"v":-3.5},{"t":1861.48,"v":0.7},{"t":1861.49,"v":-4.9},{"t":1861.5,"v":1.5},{"t":1861.51,"v":-1.1},{"t":1861.52,"v":3.8},{"t":1861.53,"v":-9.1},{"t":1861.54,"v":0.4},{"t":1861.55,"v":-2.3},{"t":1861.56,"v":1.9},{"t":1861.57,"v":-0.6},{"t":1861.58,"v":8.4},{"t":1861.59,"v":-3.3},{"t":1861.6,"v":4.2},{"t":1861.61,"v":-5.6},{"t":1861.62,"v":1.0},{"t":1861.63,"v":-9.4},{"t":1861.64,"v":4.1},{"t":1861.65,"v":-1.8},{"t":1861.66,"v":3.6},{"t":1861.67,"v":0.1},{"t":1861.68,"v":-3.9},{"t":1861.69,"v":2.6},{"t":1861.7,"v":-0.9},{"t":1861.71,"v":5.9},{"t":1861.72,"v":-7.9},{"t":1861.73,"v":9.4},{"t":1861.74,"v":1.4},{"t":1861.75,"v":-2.7},{"t":1861.76,"v":0.8},{"t":1861.77,"v":10.6},{"t":1861.78,"v":-7.1},{"t":1861.79,"v":2.4},{"t":1861.8,"v":9.7},{"t":1861.81,"v":-1.3},{"t":1861.82,"v":3.2},{"t":1861.83,"v":-4.6},{"t":1861.84,"v":1.2},{"t":1861.86,"v":-0.4},{"t":1861.87,"v":3.7},{"t":1861.88,"v":-7.5},{"t":1861.89,"v":-2.0},{"t":1861.9,"v":1.8},{"t":1861.91,"v":-3.2},{"t":1861.92,"v":0.5},{"t":1861.93,"v":3.6},{"t":1861.94,"v":8.2},{"t":1861.95,"v":-6.7},{"t":1861.96,"v":-1.6},{"t":1861.97,"v":2.7},{"t":1861.98,"v":-5.2},{"t":1861.99,"v":-0.7},{"t":1862.0,"v":-3.9},{"t":1862.01,"v":5.1},{"t":1862.02,"v":-8.1},{"t":1862.03,"v":1.3},{"t":1862.04,"v":-2.0},{"t":1862.05,"v":2.2},{"t":1862.06,"v":-6.2},{"t":1862.07,"v":-1.1},{"t":1862.08,"v":0.4},{"t":1862.09,"v":-1.4},{"t":1862.1,"v":-2.9},{"t":1862.11,"v":-0.8},{"t":1862.12,"v":3.3},{"t":1862.13,"v":-1.7},{"t":1862.14,"v":-4.0},{"t":1862.15,"v":-0.2},{"t":1862.16,"v":-2.3},{"t":1862.17,"v":12.0},{"t":1862.175,"v":-8.6},{"t":1862.18,"v":-1.1},{"t":1862.185,"v":1.1},{"t":1862.19,"v":0.6},{"t":1862.195,"v":-1.9},{"t":1862.2,"v":-6.1},
{"t":1861.015,"v":0.4},{"t":1861.045,"v":-2.3},{"t":1861.075,"v":1.2},{"t":1861.105,"v":-0.6},{"t":1861.135,"v":3.3},{"t":1861.165,"v":-4.8},{"t":1861.195,"v":-1.2},{"t":1861.225,"v":3.0},{"t":1861.255,"v":-0.9},{"t":1861.285,"v":1.5},{"t":1861.315,"v":-3.4},{"t":1861.345,"v":0.3},{"t":1861.375,"v":2.5},{"t":1861.405,"v":-1.9},{"t":1861.435,"v":1.1},{"t":1861.465,"v":-4.0},{"t":1861.495,"v":4.4},{"t":1861.525,"v":-0.9},{"t":1861.555,"v":2.8},{"t":1861.585,"v":-2.7},{"t":1861.615,"v":0.4},{"t":1861.645,"v":-3.7},{"t":1861.675,"v":4.6},{"t":1861.705,"v":-1.5},{"t":1861.735,"v":0.8},{"t":1861.765,"v":-3.9},{"t":1861.795,"v":2.0},{"t":1861.825,"v":-2.4},{"t":1861.855,"v":3.3},{"t":1861.885,"v":-1.1},{"t":1861.915,"v":2.2},{"t":1861.945,"v":-3.6},{"t":1861.975,"v":0.6},{"t":1862.005,"v":-1.8},{"t":1862.035,"v":2.9},{"t":1862.065,"v":-0.5},{"t":1862.095,"v":-3.2},{"t":1862.125,"v":-1.0},{"t":1862.155,"v":-2.5},{"t":1862.185,"v":-0.4},
{"t":1862.21,"v":0.7},{"t":1862.23,"v":0.7},{"t":1862.25,"v":0.7},{"t":1862.27,"v":0.7},{"t":1862.29,"v":0.7},{"t":1862.31,"v":0.7},{"t":1862.33,"v":0.7},{"t":1862.35,"v":0.7},{"t":1862.37,"v":0.7},{"t":1862.39,"v":0.7},{"t":1862.41,"v":0.7},{"t":1862.43,"v":0.7},{"t":1862.45,"v":0.7},{"t":1862.47,"v":0.7},{"t":1862.49,"v":0.7},{"t":1862.51,"v":0.7},{"t":1862.53,"v":0.7},{"t":1862.55,"v":0.7},{"t":1862.57,"v":0.7},{"t":1862.59,"v":0.7},{"t":1862.61,"v":0.7},{"t":1862.63,"v":0.7},{"t":1862.65,"v":0.7},{"t":1862.67,"v":0.7},{"t":1862.69,"v":0.7},{"t":1862.71,"v":0.7},{"t":1862.73,"v":0.7},{"t":1862.75,"v":0.7},{"t":1862.77,"v":0.7},{"t":1862.79,"v":0.7},{"t":1862.81,"v":0.7},{"t":1862.83,"v":0.7},{"t":1862.85,"v":0.7},{"t":1862.87,"v":0.7},{"t":1862.89,"v":0.7},{"t":1862.91,"v":0.7},{"t":1862.93,"v":0.7},{"t":1862.95,"v":0.7},{"t":1862.97,"v":0.7},{"t":1862.99,"v":0.7},{"t":1863.01,"v":0.7},{"t":1863.03,"v":0.7},{"t":1863.05,"v":0.7},
{"t":1863.06,"v":3.3},{"t":1863.07,"v":-4.1},{"t":1863.08,"v":2.4},{"t":1863.09,"v":-1.2},{"t":1863.1,"v":3.7},{"t":1863.11,"v":0.3},{"t":1863.12,"v":-2.8},{"t":1863.13,"v":1.5},{"t":1863.14,"v":-0.6},{"t":1863.15,"v":3.5},{"t":1863.16,"v":12.8},{"t":1863.04,"v":8.5},{"t":1863.17,"v":-1.9},{"t":1863.18,"v":0.9},{"t":1863.19,"v":-3.5},{"t":1863.2,"v":1.8},{"t":1863.21,"v":-0.2},{"t":1863.22,"v":2.6},{"t":1863.23,"v":-1.4},{"t":1863.24,"v":5.4},{"t":1863.25,"v":0.5},{"t":1863.26,"v":-2.2},{"t":1863.27,"v":1.1},{"t":1863.28,"v":3.9},{"t":1863.29,"v":-0.9},{"t":1863.3,"v":2.2},{"t":1863.31,"v":-1.6},{"t":1863.32,"v":0.2},{"t":1863.33,"v":2.9},{"t":1863.34,"v":-3.9},{"t":1863.35,"v":1.4},{"t":1863.36,"v":-0.4},{"t":1863.37,"v":-5.1},{"t":1863.38,"v":0.7},{"t":1863.39,"v":2.5},{"t":1863.4,"v":-1.1},{"t":1863.41,"v":-4.0},{"t":1863.42,"v":0.0},{"t":1863.43,"v":-2.6},{"t":1863.44,"v":1.9},{"t":1863.45,"v":-0.7},{"t":1863.46,"v":-1.5},{"t":1863.47,"v":-3.2},{"t":1863.48,"v":0.4},{"t":1863.49,"v":-0.3},{"t":1863.5,"v":-2.0},{"t":1863.51,"v":1.2},{"t":1863.52,"v":-1.0},{"t":1863.53,"v":-4.3},{"t":1863.54,"v":-0.5},{"t":1863.55,"v":-2.4},{"t":1863.56,"v":-5.0},{"t":1863.57,"v":1.6},{"t":1863.58,"v":-1.3},{"t":1863.59,"v":3.3},{"t":1863.6,"v":-0.1},{"t":1863.61,"v":-2.9},{"t":1863.62,"v":1.0},{"t":1863.63,"v":-6.2},{"t":1863.64,"v":2.2},{"t":1863.65,"v":-0.8},{"t":1863.66,"v":-3.7},{"t":1863.67,"v":4.1},{"t":1863.68,"v":0.6},{"t":1863.69,"v":-1.8},{"t":1863.7,"v":4.6},{"t":1863.71,"v":-2.5},{"t":1863.72,"v":1.3},{"t":1863.73,"v":-0.6},{"t":1863.74,"v":3.1},{"t":1863.75,"v":-9.8},{"t":1863.76,"v":-7.5},{"t":1863.77,"v":9.6},{"t":1863.775,"v":7.1},{"t":1863.78,"v":-1.1},{"t":1863.79,"v":2.1},{"t":1863.8,"v":-6.2},{"t":1863.81,"v":0.5},{"t":1863.82,"v":-2.3},{"t":1863.83,"v":1.7},{"t":1863.84,"v":-4.1},{"t":1863.85,"v":0.1},{"t":1863.86,"v":3.1},{"t":1863.87,"v":-1.5},{"t":1863.88,"v":4.4},{"t":1863.89,"v":-2.8},{"t":1863.9,"v":1.0},{"t":1863.91,"v":-0.7},{"t":1863.92,"v":-4.6},{"t":1863.93,"v":2.0},{"t":1863.94,"v":-5.2},{"t":1863.95,"v":0.3},{"t":1863.96,"v":-2.0},{"t":1863.98,"v":1.4},{"t":1863.99,"v":-3.4},{"t":1864.0,"v":-0.5},{"t":1864.01,"v":2.1},{"t":1864.02,"v":-4.0},{"t":1864.03,"v":0.9},{"t":1864.04,"v":-1.2},{"t":1864.05,"v":-4.8},{"t":1864.06,"v":1.6},{"t":1864.07,"v":-0.3},{"t":1864.08,"v":3.8},{"t":1864.09,"v":10.8},{"t":1864.1,"v":-1.4},{"t":1864.11,"v":2.3},{"t":1864.12,"v":-0.9},{"t":1864.13,"v":1.9},{"t":1864.14,"v":-1.7},{"t":1864.15,"v":0.4},{"t":1864.16,"v":-2.2},{"t":1864.17,"v":1.2},{"t":1864.18,"v":-0.6},{"t":1864.19,"v":2.0},{"t":1864.2,"v":-3.0},{"t":1864.21,"v":0.6},{"t":1864.22,"v":-1.5},{"t":1864.23,"v":1.4},{"t":1864.24,"v":-2.5},{"t":1864.25,"v":0.2},{"t":1864.26,"v":-4.3},{"t":1864.27,"v":2.6},{"t":1864.28,"v":-5.7},{"t":1864.285,"v":-6.4},{"t":1864.29,"v":0.8},{"t":1864.3,"v":-1.1},{"t":1864.31,"v":1.7},{"t":1864.32,"v":-0.4},{"t":1864.33,"v":2.9},{"t":1864.34,"v":-2.0},{"t":1864.35,"v":0.7},{"t":1864.36,"v":-1.3},{"t":1864.37,"v":1.5},{"t":1864.38,"v":-0.2},{"t":1864.39,"v":3.8},{"t":1864.4,"v":-2.4},{"t":1864.41,"v":0.9},{"t":1864.42,"v":-0.8},{"t":1864.43,"v":2.1},{"t":1864.44,"v":-1.6},{"t":1864.45,"v":0.3},{"t":1864.46,"v":-3.0},{"t":1864.47,"v":1.8},{"t":1864.48,"v":-0.5},{"t":1864.49,"v":2.4},{"t":1864.5,"v":-1.9},{"t":1864.51,"v":0.6},{"t":1864.52,"v":-0.2},{"t":1864.53,"v":1.3},{"t":1864.54,"v":-2.6},{"t":1864.55,"v":0.1},{"t":1864.56,"v":2.2},{"t":1864.57,"v":-1.0},{"t":1864.58,"v":0.5},{"t":1864.59,"v":-1.7},{"t":1864.6,"v":1.6},{"t":1864.61,"v":4.9},{"t":1864.62,"v":-0.6},{"t":1864.63,"v":2.7},{"t":1864.64,"v":-1.3},{"t":1864.65,"v":1.1},{"t":1864.66,"v":12.0},{"t":1864.67,"v":-2.1},{"t":1864.68,"v":2.6},{"t":1864.69,"v":0.2},{"t":1864.7,"v":4.9},{"t":1864.71,"v":5.8},{"t":1864.715,"v":-7.8},{"t":1864.72,"v":-3.0},{"t":1864.73,"v":1.9},{"t":1864.74,"v":-0.4},{"t":1864.75,"v":2.8},{"t":1864.76,"v":7.7},{"t":1864.77,"v":-6.4},{"t":1864.78,"v":-4.6},{"t":1864.79,"v":0.7},{"t":1864.8,"v":2.9},{"t":1864.81,"v":-1.2},{"t":1864.82,"v":1.4},{"t":1864.83,"v":-0.2},{"t":1864.84,"v":2.6},{"t":1864.85,"v":-2.3},{"t":1864.86,"v":12.9},{"t":1864.87,"v":0.9},{"t":1864.88,"v":-1.7},{"t":1864.89,"v":-6.4},{"t":1864.895,"v":-7.0},{"t":1864.9,"v":1.6},{"t":1864.91,"v":4.8},{"t":1864.92,"v":-0.6},{"t":1864.93,"v":1.2},{"t":1864.94,"v":-2.0},{"t":1864.95,"v":0.4},{"t":1864.955,"v":-2.4},{"t":1864.96,"v":3.2},{"t":1864.965,"v":1.9},{"t":1864.97,"v":-0.1},
{"t":1863.065,"v":0.8},{"t":1863.095,"v":-2.0},{"t":1863.125,"v":2.1},{"t":1863.155,"v":-0.9},{"t":1863.185,"v":1.4},{"t":1863.215,"v":-2.7},{"t":1863.245,"v":0.3},{"t":1863.275,"v":-1.1},{"t":1863.305,"v":2.7},{"t":1863.335,"v":-0.5},{"t":1863.365,"v":1.6},{"t":1863.395,"v":-2.1},{"t":1863.425,"v":0.9},{"t":1863.455,"v":-3.6},{"t":1863.485,"v":-1.0},{"t":1863.515,"v":-0.2},{"t":1863.545,"v":-1.9},{"t":1863.575,"v":-0.8},{"t":1863.605,"v":-3.1},{"t":1863.635,"v":-1.4},{"t":1863.665,"v":0.5},{"t":1863.695,"v":-2.6},{"t":1863.725,"v":2.3},{"t":1863.755,"v":-0.4},{"t":1863.785,"v":0.9},{"t":1863.815,"v":-3.3},{"t":1863.845,"v":-0.9},{"t":1863.875,"v":1.9},{"t":1863.905,"v":-1.8},{"t":1863.935,"v":-3.0},{"t":1863.965,"v":0.6},{"t":1863.995,"v":-1.3},{"t":1864.025,"v":1.0},{"t":1864.055,"v":-2.4},{"t":1864.085,"v":0.2},{"t":1864.115,"v":-1.9},{"t":1864.145,"v":0.8},{"t":1864.175,"v":-0.9},{"t":1864.205,"v":1.1},{"t":1864.235,"v":-0.3},{"t":1864.265,"v":-1.2},{"t":1864.295,"v":0.5},{"t":1864.325,"v":-2.6},{"t":1864.355,"v":1.8},{"t":1864.385,"v":-1.5},{"t":1864.415,"v":0.7},{"t":1864.445,"v":2.3},{"t":1864.475,"v":-0.7},{"t":1864.505,"v":1.3},{"t":1864.535,"v":-0.4},{"t":1864.565,"v":2.1},{"t":1864.595,"v":-0.9},{"t":1864.625,"v":1.0},{"t":1864.655,"v":2.4},{"t":1864.685,"v":-0.5},{"t":1864.725,"v":1.2},{"t":1864.755,"v":-0.8},{"t":1864.785,"v":1.8},{"t":1864.815,"v":0.3},{"t":1864.845,"v":1.5},{"t":1864.875,"v":-0.3},{"t":1864.905,"v":0.8},{"t":1864.935,"v":2.1}
],
"gr":[{"t":1861.85,"v":0.7},{"t":1861.9,"v":0.7},{"t":1862.0,"v":-2.7},{"t":1862.09,"v":-2.3},{"t":1863.97,"v":-1.7},{"t":1864.12,"v":0.9},{"t":1864.3,"v":-3.2}],
"sd":[
{"t":1873.0,"v":-2.6},{"t":1873.1,"v":-5.0},{"t":1873.06,"v":2.0},{"t":1873.2,"v":2.0},{"t":1873.23,"v":1.1},{"t":1873.17,"v":-2.6},{"t":1873.31,"v":3.6},{"t":1873.315,"v":1.5},{"t":1873.45,"v":3.3},{"t":1873.5,"v":3.3},{"t":1873.52,"v":3.1},{"t":1873.47,"v":-1.6},{"t":1873.505,"v":-2.4},{"t":1873.58,"v":-2.9},{"t":1873.69,"v":-2.9},{"t":1873.78,"v":-3.8},{"t":1873.94,"v":1.5},{"t":1874.04,"v":7.1},{"t":1874.05,"v":-4.3},{"t":1874.1,"v":-2.7},{"t":1874.21,"v":1.6},{"t":1874.13,"v":1.2},{"t":1874.37,"v":-3.0},{"t":1874.47,"v":3.4},{"t":1874.52,"v":-2.6},{"t":1874.77,"v":5.1},{"t":1874.79,"v":2.6},{"t":1874.69,"v":1.3},{"t":1875.02,"v":-6.4},{"t":1875.01,"v":1.0},
{"t":1873.0,"v":-1.0},{"t":1873.005,"v":-1.3},{"t":1873.01,"v":-0.6},{"t":1873.015,"v":-1.5},{"t":1873.02,"v":0.1},{"t":1873.025,"v":-0.9},{"t":1873.03,"v":-1.8},{"t":1873.035,"v":-0.4},{"t":1873.04,"v":-1.2},{"t":1873.045,"v":-2.0},{"t":1873.05,"v":-0.7},{"t":1873.055,"v":0.4},{"t":1873.06,"v":-1.4},{"t":1873.065,"v":-0.8},{"t":1873.07,"v":1.0},{"t":1873.075,"v":-1.9},{"t":1873.08,"v":-0.5},{"t":1873.085,"v":-1.1},{"t":1873.09,"v":-2.1},{"t":1873.095,"v":-0.3},{"t":1873.1,"v":-1.3},{"t":1873.105,"v":0.5},{"t":1873.11,"v":-1.7},{"t":1873.12,"v":-0.9},{"t":1873.125,"v":-1.4},{"t":1873.13,"v":-0.4},{"t":1873.14,"v":-1.0},{"t":1873.145,"v":-2.0},{"t":1873.15,"v":-0.6},{"t":1873.16,"v":-1.2},{"t":1873.165,"v":-0.2},{"t":1873.17,"v":-1.6},{"t":1873.18,"v":-0.8},{"t":1873.185,"v":-1.1},{"t":1873.19,"v":-0.3},{"t":1873.2,"v":-1.4},{"t":1873.21,"v":-0.7},{"t":1873.215,"v":-1.0},{"t":1873.22,"v":-0.5},{"t":1873.23,"v":-1.3},{"t":1873.24,"v":-0.6},{"t":1873.25,"v":-0.9},{"t":1873.26,"v":-0.3},{"t":1873.27,"v":-1.1},{"t":1873.28,"v":-0.4},{"t":1873.29,"v":-0.7},{"t":1873.3,"v":0.1},{"t":1873.31,"v":-0.5},{"t":1873.315,"v":-0.9},{"t":1873.32,"v":-0.2},{"t":1873.33,"v":-0.6},{"t":1873.34,"v":0.0},{"t":1873.35,"v":-0.4},{"t":1873.36,"v":0.3},{"t":1873.37,"v":-0.3},{"t":1873.38,"v":0.0},{"t":1873.39,"v":-0.6},{"t":1873.4,"v":0.2},{"t":1873.41,"v":-0.1},{"t":1873.42,"v":0.4},{"t":1873.43,"v":0.1},{"t":1873.44,"v":-0.3},{"t":1873.45,"v":0.3},{"t":1873.46,"v":0.0},{"t":1873.47,"v":0.5},{"t":1873.48,"v":0.2},{"t":1873.49,"v":0.6},{"t":1873.5,"v":0.1},{"t":1873.51,"v":0.4},{"t":1873.52,"v":0.9},{"t":1873.53,"v":0.3},{"t":1873.54,"v":0.7},{"t":1873.55,"v":0.2},{"t":1873.56,"v":0.5},{"t":1873.57,"v":0.9},{"t":1873.58,"v":0.3},{"t":1873.59,"v":0.6},{"t":1873.6,"v":0.1},{"t":1873.61,"v":0.5},{"t":1873.62,"v":1.1},{"t":1873.63,"v":0.2},{"t":1873.64,"v":0.6},{"t":1873.65,"v":-0.1},{"t":1873.66,"v":0.4},{"t":1873.67,"v":0.8},{"t":1873.68,"v":0.0},{"t":1873.69,"v":0.5},{"t":1873.7,"v":-0.2},{"t":1873.71,"v":0.3},{"t":1873.72,"v":-0.5},{"t":1873.73,"v":0.1},{"t":1873.74,"v":-0.3},{"t":1873.75,"v":-1.0},{"t":1873.76,"v":-0.1},{"t":1873.77,"v":-0.6},{"t":1873.78,"v":-0.2},{"t":1873.79,"v":-0.8},{"t":1873.8,"v":-0.4},{"t":1873.81,"v":-1.0},{"t":1873.82,"v":-0.3},{"t":1873.83,"v":-0.6},{"t":1873.84,"v":-0.9},{"t":1873.85,"v":-0.2},{"t":1873.86,"v":-0.7},{"t":1873.87,"v":-0.4},{"t":1873.88,"v":-1.1},{"t":1873.89,"v":-0.3},{"t":1873.9,"v":-0.6},{"t":1873.91,"v":-0.1},{"t":1873.92,"v":-0.8},{"t":1873.93,"v":-0.4},{"t":1873.95,"v":-1.0},{"t":1873.96,"v":-0.2},{"t":1873.97,"v":-0.6},{"t":1873.98,"v":-1.2},{"t":1873.99,"v":-0.4},{"t":1874.0,"v":-0.8},{"t":1874.01,"v":-0.3},{"t":1874.03,"v":-0.6},{"t":1874.04,"v":-1.2},{"t":1874.05,"v":-0.2},{"t":1874.06,"v":-0.7},{"t":1874.07,"v":0.0},{"t":1874.08,"v":-0.5},{"t":1874.09,"v":-0.9},{"t":1874.1,"v":-0.3},{"t":1874.11,"v":-0.6},{"t":1874.12,"v":0.1},{"t":1874.13,"v":-0.4},{"t":1874.14,"v":-0.8},{"t":1874.15,"v":-0.2},{"t":1874.16,"v":-0.5},{"t":1874.17,"v":0.2},{"t":1874.18,"v":-0.3},{"t":1874.19,"v":-0.7},{"t":1874.2,"v":-0.1},{"t":1874.21,"v":-0.4},{"t":1874.22,"v":0.0},{"t":1874.23,"v":-0.6},{"t":1874.24,"v":-0.2},{"t":1874.25,"v":0.3},{"t":1874.26,"v":-0.3},{"t":1874.27,"v":0.9},{"t":1874.275,"v":1.0},{"t":1874.28,"v":0.1},{"t":1874.29,"v":-0.5},{"t":1874.3,"v":-0.8},{"t":1874.31,"v":0.2},{"t":1874.32,"v":-0.1},{"t":1874.33,"v":0.4},{"t":1874.34,"v":0.1},{"t":1874.35,"v":0.5},{"t":1874.36,"v":0.2},{"t":1874.37,"v":0.3},{"t":1874.38,"v":0.6},{"t":1874.39,"v":0.1},{"t":1874.4,"v":0.4},{"t":1874.41,"v":0.2},{"t":1874.42,"v":0.6},{"t":1874.43,"v":0.3},{"t":1874.44,"v":0.5},{"t":1874.45,"v":0.2},{"t":1874.46,"v":0.7},{"t":1874.47,"v":0.4},{"t":1874.48,"v":0.6},{"t":1874.49,"v":0.3},{"t":1874.5,"v":0.7},{"t":1874.51,"v":0.5},{"t":1874.52,"v":0.8},{"t":1874.53,"v":0.4},{"t":1874.54,"v":0.6},{"t":1874.55,"v":0.3},{"t":1874.56,"v":0.7},{"t":1874.57,"v":0.5},{"t":1874.58,"v":0.2},{"t":1874.59,"v":0.6},{"t":1874.6,"v":0.4},{"t":1874.61,"v":0.8},{"t":1874.62,"v":0.3},{"t":1874.63,"v":0.5},{"t":1874.64,"v":0.7},{"t":1874.65,"v":0.2},{"t":1874.66,"v":0.6},{"t":1874.67,"v":0.4},{"t":1874.68,"v":0.8},{"t":1874.69,"v":0.3},{"t":1874.7,"v":0.5},{"t":1874.71,"v":0.1},{"t":1874.72,"v":0.4},{"t":1874.73,"v":-0.2},{"t":1874.74,"v":0.3},{"t":1874.75,"v":0.0},{"t":1874.76,"v":0.4},{"t":1874.77,"v":-0.3},{"t":1874.78,"v":0.1},{"t":1874.79,"v":-0.4},{"t":1874.8,"v":0.0},{"t":1874.81,"v":-0.3},{"t":1874.82,"v":0.2},{"t":1874.83,"v":-0.5},{"t":1874.84,"v":-0.1},{"t":1874.85,"v":-0.4},{"t":1874.86,"v":-0.2},{"t":1874.87,"v":-0.7},{"t":1874.88,"v":-0.9},{"t":1874.89,"v":-0.6},{"t":1874.9,"v":-1.1},{"t":1874.91,"v":-0.8},{"t":1874.92,"v":-1.3},{"t":1874.93,"v":-0.9},{"t":1874.94,"v":-1.2},{"t":1874.95,"v":-0.7},{"t":1874.96,"v":-1.4},{"t":1874.97,"v":-1.0},{"t":1874.98,"v":-1.2},{"t":1874.99,"v":-0.8},{"t":1875.0,"v":-1.3},{"t":1875.005,"v":0.3},{"t":1875.01,"v":-0.2},{"t":1875.02,"v":-0.5},{"t":1875.03,"v":-0.3},{"t":1875.04,"v":-0.6},{"t":1875.05,"v":-0.2},{"t":1875.06,"v":-0.4},{"t":1875.07,"v":-0.7},{"t":1875.08,"v":-0.3},{"t":1875.09,"v":-0.5},{"t":1875.1,"v":-0.2},{"t":1875.11,"v":-0.6},{"t":1875.12,"v":-0.4},{"t":1875.13,"v":-0.8},{"t":1875.14,"v":-0.5},{"t":1875.15,"v":-1.1},{"t":1875.16,"v":-0.6},{"t":1875.17,"v":-0.3},{"t":1875.18,"v":-0.7},{"t":1875.19,"v":-0.4},{"t":1875.2,"v":-0.6},{"t":1875.21,"v":-0.2},{"t":1875.22,"v":-0.5},{"t":1875.23,"v":-0.1},{"t":1875.24,"v":-0.3},{"t":1875.245,"v":0.2},{"t":1875.25,"v":0.4}
],
"sr":[{"t":1874.02,"v":-1.0},{"t":1874.025,"v":-1.5},{"t":1874.4,"v":0.2}]
},
"vconcat":[
{"hconcat":[
 {"title":"GALWAY [hPa]","width":413,"height":234,
  "layer":[
   {"data":{"name":"gi"},"mark":{"type":"circle","size":14,"opacity":1,"color":"black"},
    "encoding":{"x":{"field":"t","type":"quantitative","scale":{"domain":[1860,1875.4],"nice":false,"zero":false},"axis":{"values":[1860,1862,1864,1866,1868,1870,1872,1874],"format":"d"}},
     "y":{"field":"v","type":"quantitative","scale":{"domain":[950,1050],"nice":false,"zero":false},"axis":{"values":[950,1000,1050],"format":"d"}}}},
   {"data":{"name":"gs"},"mark":{"type":"circle","size":14,"opacity":1,"color":"red"},
    "encoding":{"x":{"field":"t","type":"quantitative","axis":{"orient":"top","labels":false,"values":[1860,1862,1864,1866,1868,1870,1872,1874]}},
     "y":{"field":"v","type":"quantitative","axis":{"orient":"right","labels":false,"values":[950,1000,1050]}}}}
  ],
  "resolve":{"axis":{"x":"independent","y":"independent"}}},
 {"title":"GALWAY [differences, hPa] (37.6%)","width":413,"height":234,
  "layer":[
   {"data":{"name":"gd"},"mark":{"type":"circle","size":13,"opacity":1,"color":"blue"},
    "encoding":{"x":{"field":"t","type":"quantitative","scale":{"domain":[1861,1865.14],"nice":false,"zero":false},"axis":{"values":[1861,1861.5,1862,1862.5,1863,1863.5,1864,1864.5,1865],"labelExpr":"datum.value % 1 == 0 ? 'Jan ' + datum.value : ''"}},
     "y":{"field":"v","type":"quantitative","scale":{"domain":[-15,15],"nice":false,"zero":false},"axis":{"values":[-15,-10,-5,0,5,10,15]}}}},
   {"data":{"name":"gr"},"mark":{"type":"circle","size":13,"opacity":1,"color":"red"},
    "encoding":{"x":{"field":"t","type":"quantitative","axis":{"orient":"top","labels":false,"values":[1861,1861.5,1862,1862.5,1863,1863.5,1864,1864.5,1865]}},
     "y":{"field":"v","type":"quantitative","axis":{"orient":"right","labels":false,"values":[-15,-10,-5,0,5,10,15]}}}}
  ],
  "resolve":{"axis":{"x":"independent","y":"independent"}}}
],"spacing":12},
{"hconcat":[
 {"title":"STORNOWAY [hPa]","width":413,"height":233,
  "layer":[
   {"data":{"name":"si"},"mark":{"type":"circle","size":14,"opacity":1},
    "encoding":{"x":{"field":"t","type":"quantitative","scale":{"domain":[1860,1875.4],"nice":false,"zero":false},"axis":{"values":[1860,1862,1864,1866,1868,1870,1872,1874],"format":"d"}},
     "y":{"field":"v","type":"quantitative","scale":{"domain":[950,1050],"nice":false,"zero":false},"axis":{"values":[950,1000,1050],"format":"d"}},
     "color":{"datum":"ISPDv4","type":"nominal","scale":{"domain":["ISPDv4","This study"],"range":["black","red"]},
      "legend":{"orient":"none","legendX":11,"legendY":89,"title":null,"symbolType":"circle","symbolSize":64,"symbolStrokeWidth":0,"labelFontSize":16,"labelColor":"#000","strokeColor":"#555","fillColor":"white","padding":5,"symbolOffset":19,"labelOffset":24,"rowPadding":2}}}},
   {"data":{"name":"ss"},"mark":{"type":"circle","size":14,"opacity":1},
    "encoding":{"x":{"field":"t","type":"quantitative","axis":{"orient":"top","labels":false,"values":[1860,1862,1864,1866,1868,1870,1872,1874]}},
     "y":{"field":"v","type":"quantitative","axis":{"orient":"right","labels":false,"values":[950,1000,1050]}},
     "color":{"datum":"This study","type":"nominal"}}}
  ],
  "resolve":{"axis":{"x":"independent","y":"independent"}}},
 {"title":"STORNOWAY [differences, hPa] (5.0%)","width":413,"height":233,
  "layer":[
   {"data":{"name":"sd"},"mark":{"type":"circle","size":13,"opacity":1,"color":"blue"},
    "encoding":{"x":{"field":"t","type":"quantitative","scale":{"domain":[1872.918,1875.326],"nice":false,"zero":false},"axis":{"values":[1873,1873.5,1874,1874.5,1875],"labelExpr":"(datum.value % 1 == 0 ? 'Jan ' : 'Jul ') + floor(datum.value)"}},
     "y":{"field":"v","type":"quantitative","scale":{"domain":[-15,15],"nice":false,"zero":false},"axis":{"values":[-15,-10,-5,0,5,10,15]}}}},
   {"data":{"name":"sr"},"mark":{"type":"circle","size":13,"opacity":1,"color":"red"},
    "encoding":{"x":{"field":"t","type":"quantitative","axis":{"orient":"top","labels":false,"values":[1873,1873.5,1874,1874.5,1875]}},
     "y":{"field":"v","type":"quantitative","axis":{"orient":"right","labels":false,"values":[-15,-10,-5,0,5,10,15]}}}}
  ],
  "resolve":{"axis":{"x":"independent","y":"independent"}}}
],"spacing":12}
],
"spacing":11,
"resolve":{"scale":{"color":"independent"},"legend":{"color":"independent"}}
}
